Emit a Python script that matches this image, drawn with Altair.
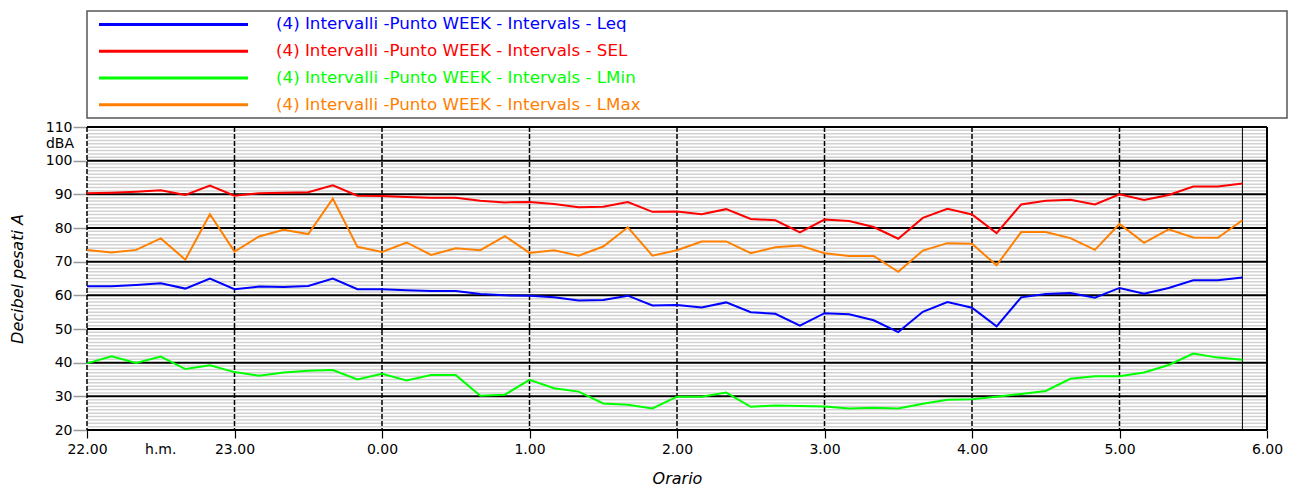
import altair as alt
import pandas as pd

# ---- data ----
# samples every 10 minutes from 22.00 to 5.50
n_samples = 48
time_labels = [f"{((22 * 60 + 10 * i) // 60) % 24}.{(10 * i) % 60:02d}" for i in range(n_samples)]
hours_from_start = [i / 6 for i in range(n_samples)]

leq = [62.7, 62.7, 63.1, 63.6, 62.0, 65.0, 61.8, 62.6, 62.5, 62.8, 65.0, 61.8,
       61.8, 61.5, 61.3, 61.3, 60.4, 60.0, 59.9, 59.4, 58.5, 58.6, 59.9, 57.0,
       57.1, 56.4, 57.9, 55.0, 54.5, 51.0, 54.7, 54.4, 52.6, 49.1, 55.1, 58.0,
       56.3, 50.8, 59.4, 60.4, 60.7, 59.3, 62.2, 60.5, 62.2, 64.5, 64.5, 65.3]
sel = [90.3, 90.5, 90.8, 91.2, 89.8, 92.6, 89.6, 90.3, 90.5, 90.6, 92.7, 89.6,
       89.5, 89.2, 89.0, 89.0, 88.1, 87.6, 87.7, 87.1, 86.2, 86.3, 87.7, 84.8,
       84.9, 84.1, 85.6, 82.7, 82.3, 78.7, 82.5, 82.1, 80.3, 76.8, 83.0, 85.7,
       84.0, 78.5, 87.0, 88.1, 88.4, 87.0, 90.0, 88.3, 89.8, 92.3, 92.3, 93.2]
lmin = [39.8, 41.9, 39.9, 41.8, 38.1, 39.2, 37.2, 36.1, 37.1, 37.6, 37.8, 35.0,
        36.7, 34.7, 36.3, 36.3, 30.2, 30.5, 34.9, 32.4, 31.4, 27.9, 27.5, 26.4,
        29.9, 29.9, 31.1, 26.9, 27.3, 27.1, 27.0, 26.4, 26.6, 26.4, 27.8, 29.0,
        29.1, 29.9, 30.7, 31.6, 35.2, 36.0, 36.0, 37.1, 39.3, 42.7, 41.5, 40.9]
lmax = [73.5, 72.7, 73.5, 76.9, 70.6, 84.1, 73.0, 77.5, 79.5, 78.2, 88.7, 74.4,
        72.9, 75.7, 72.0, 74.0, 73.4, 77.6, 72.6, 73.4, 71.8, 74.5, 80.2, 71.8,
        73.4, 76.0, 76.0, 72.5, 74.3, 74.8, 72.5, 71.7, 71.7, 67.0, 73.3, 75.5,
        75.3, 68.9, 78.8, 78.8, 77.0, 73.5, 81.2, 75.6, 79.6, 77.2, 77.1, 82.3]

series_names = [
    "(4) Intervalli -Punto WEEK - Intervals - Leq",
    "(4) Intervalli -Punto WEEK - Intervals - SEL",
    "(4) Intervalli -Punto WEEK - Intervals - LMin",
    "(4) Intervalli -Punto WEEK - Intervals - LMax",
]
series_colors = ["#0000FF", "#FF0000", "#00FF00", "#FF8000"]
series_values = [leq, sel, lmin, lmax]

hour_ticks = list(range(0, 9))          # 22.00 ... 6.00
major_levels = list(range(20, 111, 10))
minor_levels = [v for v in range(21, 110) if v % 10 != 0]

FONT = "DejaVu Sans"

# ---- tables ----
rows = []
for name, vals in zip(series_names, series_values):
    for t, lab, v in zip(hours_from_start, time_labels, vals):
        rows.append({"series": name, "t": t, "time": lab, "value": v})
df = pd.DataFrame(rows)
legend_df = pd.DataFrame({"series": series_names})
one = pd.DataFrame({"a": [0]})

xscale = alt.Scale(domain=[0, 8], nice=False, zero=False)
yscale = alt.Scale(domain=[20, 110], nice=False, zero=False)
cscale = alt.Scale(domain=series_names, range=series_colors)

yaxis = alt.Axis(
    values=major_levels, title="Decibel pesati A", grid=False, domain=False,
    tickColor="#999999", tickSize=14, tickWidth=1.5, labelPadding=1,
    labelFontSize=14, labelColor="black", labelFont=FONT,
    titleFont=FONT, titleFontSize=16, titleFontStyle="italic",
    titleFontWeight="normal", titleColor="black", titlePadding=20,
)
xaxis = alt.Axis(
    values=hour_ticks, title="Orario", grid=False, domain=False,
    labelExpr="((22 + datum.value) % 24) + '.00'",
    labelFlush=False, labelOverlap=False,
    tickColor="black", tickSize=8, tickWidth=1.2, labelPadding=4,
    labelFontSize=14, labelColor="black", labelFont=FONT,
    titleFont=FONT, titleFontSize=16, titleFontStyle="italic",
    titleFontWeight="normal", titleColor="black", titlePadding=14,
)

# ---- main plot ----
minor = alt.Chart(pd.DataFrame({"v": minor_levels})).mark_rule(
    color="#d2d2d2", strokeWidth=1.5
).encode(y=alt.Y("v:Q", scale=yscale, axis=yaxis))

major = alt.Chart(pd.DataFrame({"v": major_levels})).mark_rule(
    color="black", strokeWidth=2
).encode(y=alt.Y("v:Q", scale=yscale, axis=yaxis))

hours = alt.Chart(pd.DataFrame({"h": hour_ticks[:-1]})).mark_rule(
    color="black", strokeWidth=1.5, strokeDash=[5, 2]
).encode(x=alt.X("h:Q", scale=xscale, axis=xaxis))

right_border = alt.Chart(one).mark_rule(color="black", strokeWidth=2).encode(
    x=alt.datum(hour_ticks[-1], scale=xscale, axis=xaxis)
)
last_sample = alt.Chart(one).mark_rule(color="black", strokeWidth=1).encode(
    x=alt.datum(hours_from_start[-1], scale=xscale, axis=xaxis)
)

lines = alt.Chart(df).mark_line(strokeWidth=2).encode(
    x=alt.X("t:Q", scale=xscale, axis=xaxis),
    y=alt.Y("value:Q", scale=yscale, axis=yaxis),
    color=alt.Color("series:N", scale=cscale, legend=None),
    order="t:Q",
)

dba = alt.Chart(one).mark_text(
    text="dBA", align="right", baseline="middle", fontSize=14, font=FONT, color="black"
).encode(x=alt.value(-13), y=alt.datum(105, scale=yscale, axis=yaxis))

hm = alt.Chart(one).mark_text(
    text="h.m.", align="center", baseline="top", fontSize=14, font=FONT, color="black"
).encode(x=alt.datum(0.5, scale=xscale, axis=xaxis), y=alt.value(316))

main = alt.layer(minor, major, hours, right_border, last_sample, lines, dba, hm).properties(
    width=1180, height=303, view=alt.ViewBackground(stroke="transparent")
)

# ---- legend box ----
lbase = alt.Chart(legend_df).encode(
    y=alt.Y("series:N", sort=series_names, axis=None, scale=alt.Scale(type="point", padding=0.5)),
    color=alt.Color("series:N", scale=cscale, legend=None),
)
lrules = lbase.mark_rule(strokeWidth=3).encode(x=alt.value(12), x2=alt.value(161))
ltext = lbase.mark_text(align="left", baseline="middle", fontSize=16.7, font=FONT).encode(
    x=alt.value(189), text="series:N"
)
legend = alt.layer(lrules, ltext).properties(
    width=1200, height=107, view=alt.ViewBackground(stroke="#555555", strokeWidth=1.5)
)

chart = alt.vconcat(legend, main, spacing=0).properties(
    padding={"left": 0, "top": 2, "right": 0, "bottom": 0}
).configure(font=FONT)

chart.save("out.html", embed_options={"renderer": "svg", "actions": False})
